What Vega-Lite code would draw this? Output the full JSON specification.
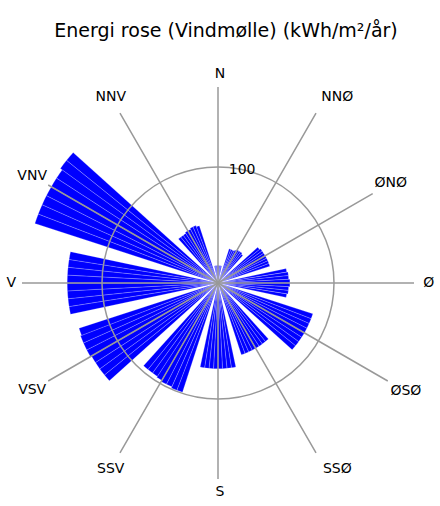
{
  "$schema": "https://vega.github.io/schema/vega-lite/v6.json",
  "width": 436,
  "height": 446,
  "autosize": {"type": "none"},
  "padding": {"top": 60, "left": 0, "right": 4, "bottom": 0},
  "background": "white",
  "title": {"text": "Energi rose (Vindmølle) (kWh/m²/år)", "font": "DejaVu Sans", "fontSize": 19, "fontWeight": "normal", "color": "black", "offset": 19, "anchor": "middle", "dx": 8},
  "config": {"view": {"stroke": null}},
  "datasets": {
    "bars": [
      {"start": 348, "end": 351, "value": 15}, {"start": 351, "end": 354, "value": 15}, {"start": 354, "end": 357, "value": 15}, {"start": 357, "end": 360, "value": 15},
      {"start": 0, "end": 3, "value": 15}, {"start": 3, "end": 6, "value": 15}, {"start": 6, "end": 9, "value": 15}, {"start": 9, "end": 12, "value": 15},
      {"start": 18, "end": 21, "value": 31}, {"start": 21, "end": 24, "value": 31}, {"start": 24, "end": 27, "value": 31}, {"start": 27, "end": 30, "value": 32},
      {"start": 30, "end": 33, "value": 33}, {"start": 33, "end": 36, "value": 33}, {"start": 36, "end": 39, "value": 33}, {"start": 39, "end": 42, "value": 32},
      {"start": 48, "end": 51, "value": 46}, {"start": 51, "end": 54, "value": 47}, {"start": 54, "end": 57, "value": 47}, {"start": 57, "end": 60, "value": 47},
      {"start": 60, "end": 63, "value": 47}, {"start": 63, "end": 66, "value": 47}, {"start": 66, "end": 69, "value": 47}, {"start": 69, "end": 72, "value": 47},
      {"start": 78, "end": 81, "value": 60}, {"start": 81, "end": 84, "value": 61}, {"start": 84, "end": 87, "value": 61}, {"start": 87, "end": 90, "value": 62},
      {"start": 90, "end": 93, "value": 62}, {"start": 93, "end": 96, "value": 61}, {"start": 96, "end": 99, "value": 61}, {"start": 99, "end": 102, "value": 60},
      {"start": 108, "end": 111, "value": 86}, {"start": 111, "end": 114, "value": 86}, {"start": 114, "end": 117, "value": 86}, {"start": 117, "end": 120, "value": 86},
      {"start": 120, "end": 123, "value": 86}, {"start": 123, "end": 126, "value": 86}, {"start": 126, "end": 129, "value": 86}, {"start": 129, "end": 132, "value": 86},
      {"start": 138, "end": 141, "value": 65}, {"start": 141, "end": 144, "value": 65}, {"start": 144, "end": 147, "value": 65}, {"start": 147, "end": 150, "value": 65},
      {"start": 150, "end": 153, "value": 65}, {"start": 153, "end": 156, "value": 65}, {"start": 156, "end": 159, "value": 65}, {"start": 159, "end": 162, "value": 65},
      {"start": 168, "end": 171, "value": 74}, {"start": 171, "end": 174, "value": 74}, {"start": 174, "end": 177, "value": 74}, {"start": 177, "end": 180, "value": 74},
      {"start": 180, "end": 183, "value": 74}, {"start": 183, "end": 186, "value": 74}, {"start": 186, "end": 189, "value": 74}, {"start": 189, "end": 192, "value": 74},
      {"start": 198, "end": 201, "value": 99}, {"start": 201, "end": 204, "value": 99}, {"start": 204, "end": 207, "value": 98}, {"start": 207, "end": 210, "value": 98},
      {"start": 210, "end": 213, "value": 97}, {"start": 213, "end": 216, "value": 96}, {"start": 216, "end": 219, "value": 96}, {"start": 219, "end": 222, "value": 96},
      {"start": 228, "end": 231, "value": 126}, {"start": 231, "end": 234, "value": 126}, {"start": 234, "end": 237, "value": 126}, {"start": 237, "end": 240, "value": 126},
      {"start": 240, "end": 243, "value": 127}, {"start": 243, "end": 246, "value": 127}, {"start": 246, "end": 249, "value": 127}, {"start": 249, "end": 252, "value": 126},
      {"start": 258, "end": 261, "value": 130}, {"start": 261, "end": 264, "value": 130}, {"start": 264, "end": 267, "value": 130}, {"start": 267, "end": 270, "value": 130},
      {"start": 270, "end": 273, "value": 130}, {"start": 273, "end": 276, "value": 130}, {"start": 276, "end": 279, "value": 130}, {"start": 279, "end": 282, "value": 130},
      {"start": 288, "end": 291, "value": 166}, {"start": 291, "end": 294, "value": 166}, {"start": 294, "end": 297, "value": 166}, {"start": 297, "end": 300, "value": 166},
      {"start": 300, "end": 303, "value": 166}, {"start": 303, "end": 306, "value": 166}, {"start": 306, "end": 309, "value": 168}, {"start": 309, "end": 312, "value": 168},
      {"start": 318, "end": 321, "value": 51}, {"start": 321, "end": 324, "value": 51}, {"start": 324, "end": 327, "value": 51}, {"start": 327, "end": 330, "value": 52},
      {"start": 330, "end": 333, "value": 52}, {"start": 333, "end": 336, "value": 53}, {"start": 336, "end": 339, "value": 53}, {"start": 339, "end": 342, "value": 52}
    ],
    "dirs": [
      {"angle": 0, "label": "N", "grp": "a"}, {"angle": 30, "label": "NNØ", "grp": "b"}, {"angle": 60, "label": "ØNØ", "grp": "d"}, {"angle": 90, "label": "Ø", "grp": "a"},
      {"angle": 120, "label": "ØSØ", "grp": "e"}, {"angle": 150, "label": "SSØ", "grp": "b"}, {"angle": 180, "label": "S", "grp": "a"}, {"angle": 210, "label": "SSV", "grp": "c"},
      {"angle": 240, "label": "VSV", "grp": "c"}, {"angle": 270, "label": "V", "grp": "a"}, {"angle": 300, "label": "VNV", "grp": "c"}, {"angle": 330, "label": "NNV", "grp": "c"}
    ],
    "ring": [{"r": 100, "t": "100"}]
  },
  "layer": [
    {
      "data": {"name": "bars"},
      "mark": {"type": "arc", "fill": "#0000ff", "stroke": "#ffffff", "strokeWidth": 0.4, "strokeOpacity": 0.55},
      "encoding": {
        "theta": {"field": "start", "type": "quantitative", "stack": null, "scale": {"type": "linear", "domain": [0, 360], "range": [0, 6.283185307179586], "zero": false}},
        "theta2": {"field": "end"},
        "radius": {"field": "value", "type": "quantitative", "scale": {"type": "linear", "domain": [0, 180], "range": [0, 208.8], "zero": true}}
      }
    },
    {
      "data": {"name": "ring"},
      "mark": {"type": "arc", "fillOpacity": 0, "stroke": "#999999", "strokeWidth": 1.5, "theta": 0, "theta2": 6.2832},
      "encoding": {
        "radius": {"field": "r", "type": "quantitative"},
        "radius2": {"field": "r"}
      }
    },
    {
      "data": {"name": "dirs"},
      "transform": [{"filter": "datum.grp !== 'd'"}],
      "mark": {"type": "arc", "fillOpacity": 0, "stroke": "#999999", "strokeWidth": 1.5},
      "encoding": {
        "theta": {"field": "angle", "type": "quantitative", "stack": null},
        "theta2": {"field": "angle"},
        "radius": {"datum": 169}
      }
    },
    {
      "data": {"name": "dirs"},
      "transform": [{"filter": "datum.grp === 'd'"}],
      "mark": {"type": "arc", "fillOpacity": 0, "stroke": "#999999", "strokeWidth": 1.5},
      "encoding": {
        "theta": {"field": "angle", "type": "quantitative", "stack": null},
        "theta2": {"field": "angle"},
        "radius": {"datum": 154}
      }
    },
    {
      "data": {"name": "dirs"},
      "transform": [{"filter": "datum.grp === 'a'"}],
      "mark": {"type": "text", "font": "DejaVu Sans", "fontSize": 14, "color": "black", "align": "center", "baseline": "middle", "dx": 2},
      "encoding": {
        "theta": {"field": "angle", "type": "quantitative", "stack": null},
        "radius": {"datum": 180},
        "text": {"field": "label"}
      }
    },
    {
      "data": {"name": "dirs"},
      "transform": [{"filter": "datum.grp === 'b'"}],
      "mark": {"type": "text", "font": "DejaVu Sans", "fontSize": 14, "color": "black", "align": "center", "baseline": "middle", "dx": 12},
      "encoding": {
        "theta": {"field": "angle", "type": "quantitative", "stack": null},
        "radius": {"datum": 185},
        "text": {"field": "label"}
      }
    },
    {
      "data": {"name": "dirs"},
      "transform": [{"filter": "datum.grp === 'c'"}],
      "mark": {"type": "text", "font": "DejaVu Sans", "fontSize": 14, "color": "black", "align": "center", "baseline": "middle"},
      "encoding": {
        "theta": {"field": "angle", "type": "quantitative", "stack": null},
        "radius": {"datum": 185},
        "text": {"field": "label"}
      }
    },
    {
      "data": {"name": "dirs"},
      "transform": [{"filter": "datum.grp === 'd'"}],
      "mark": {"type": "text", "font": "DejaVu Sans", "fontSize": 14, "color": "black", "align": "center", "baseline": "middle"},
      "encoding": {
        "theta": {"field": "angle", "type": "quantitative", "stack": null},
        "radius": {"datum": 172},
        "text": {"field": "label"}
      }
    },
    {
      "data": {"name": "dirs"},
      "transform": [{"filter": "datum.grp === 'e'"}],
      "mark": {"type": "text", "font": "DejaVu Sans", "fontSize": 14, "color": "black", "align": "center", "baseline": "middle"},
      "encoding": {
        "theta": {"field": "angle", "type": "quantitative", "stack": null},
        "radius": {"datum": 187},
        "text": {"field": "label"}
      }
    },
    {
      "data": {"name": "ring"},
      "mark": {"type": "text", "font": "DejaVu Sans", "fontSize": 14, "color": "black", "align": "center", "baseline": "middle"},
      "encoding": {
        "theta": {"datum": 12},
        "radius": {"field": "r", "type": "quantitative"},
        "text": {"field": "t"}
      }
    }
  ]
}
